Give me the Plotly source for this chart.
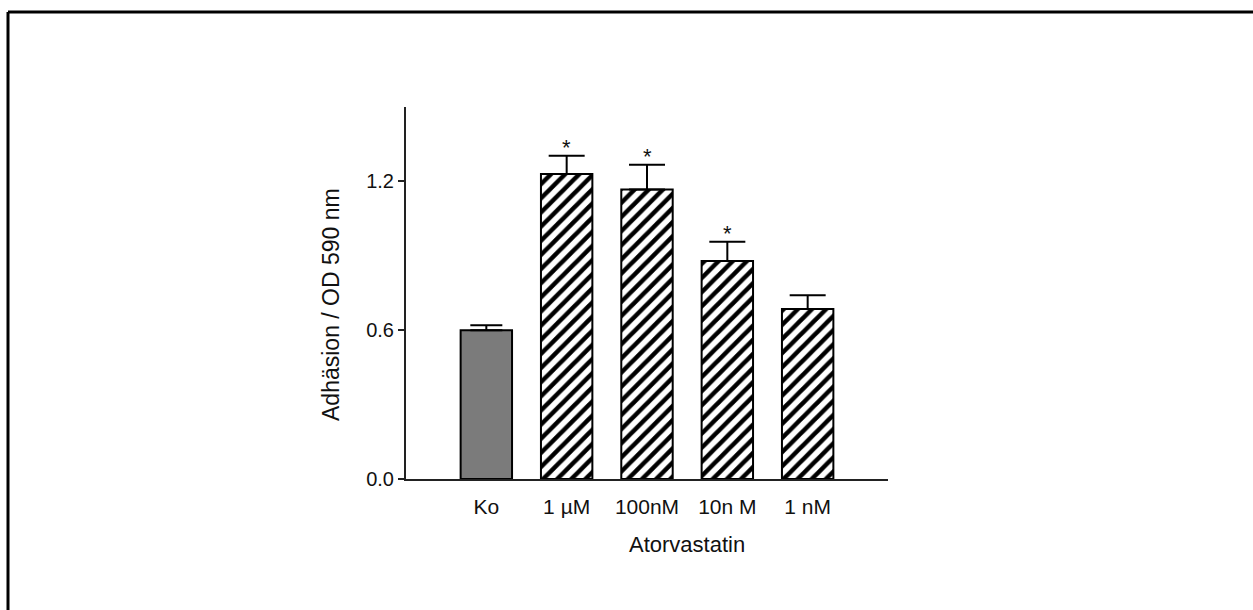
import plotly.graph_objects as go

categories = ["Ko", "1µM", "100nM", "10nM", "1nM"]
tick_labels = ["Ko", "1 µM", "100nM", "10n M", "1 nM"]
values = [0.60, 1.23, 1.167, 0.879, 0.685]
errors_up = [0.02, 0.073, 0.10, 0.078, 0.056]
significant = [False, True, True, True, False]
hatched = [False, True, True, True, True]

FONT = "Arial, 'Liberation Sans', sans-serif"

xs = list(range(len(categories)))
ctrl_idx = [i for i, h in enumerate(hatched) if not h]
hatch_idx = [i for i, h in enumerate(hatched) if h]

fig = go.Figure()
fig.add_trace(go.Bar(
    x=[xs[i] for i in ctrl_idx],
    y=[values[i] for i in ctrl_idx],
    width=0.64,
    marker=dict(color="#7b7b7b", line=dict(color="black", width=2)),
    error_y=dict(type="data", symmetric=False,
                 array=[errors_up[i] for i in ctrl_idx],
                 arrayminus=[0] * len(ctrl_idx), color="black",
                 thickness=2, width=16),
    showlegend=False,
))
fig.add_trace(go.Bar(
    x=[xs[i] for i in hatch_idx],
    y=[values[i] for i in hatch_idx],
    width=0.64,
    marker=dict(
        color="white",
        line=dict(color="black", width=2),
        pattern=dict(shape="/", fgcolor="black", bgcolor="white",
                     fgopacity=1, size=10, solidity=0.45),
    ),
    error_y=dict(type="data", symmetric=False,
                 array=[errors_up[i] for i in hatch_idx],
                 arrayminus=[0] * len(hatch_idx), color="black",
                 thickness=2, width=18),
    showlegend=False,
))

annotations = []
for i, (v, e, s) in enumerate(zip(values, errors_up, significant)):
    if s:
        annotations.append(dict(x=i, y=v + e, xref="x", yref="y", text="*",
                                showarrow=False, yanchor="bottom", yshift=-6,
                                font=dict(family=FONT, size=22, color="#111")))

annotations.append(dict(x=2.5, y=-0.177, xref="x", yref="paper",
                        text="Atorvastatin", showarrow=False,
                        xanchor="center", yanchor="middle",
                        font=dict(family=FONT, size=22, color="#111")))
annotations.append(dict(x=-0.156, y=0.47, xref="paper", yref="paper",
                        text="Adhäsion / OD 590 nm", showarrow=False,
                        textangle=-90, xanchor="center", yanchor="middle",
                        font=dict(family=FONT, size=23, color="#111")))

fig.update_layout(
    width=1253, height=610,
    margin=dict(l=406, r=365, t=107, b=131, pad=0),
    paper_bgcolor="white", plot_bgcolor="white",
    font=dict(family=FONT, color="#111"),
    barmode="overlay",
    annotations=annotations,
    shapes=[
        dict(type="line", xref="paper", yref="paper",
             x0=(8 - 406) / 482, x1=(1260 - 406) / 482,
             y0=(479 - 12) / 372, y1=(479 - 12) / 372,
             line=dict(color="black", width=3)),
        dict(type="line", xref="paper", yref="paper",
             x0=(8 - 406) / 482, x1=(8 - 406) / 482,
             y0=(479 - 12) / 372, y1=(479 - 620) / 372,
             line=dict(color="black", width=3)),
    ],
)

fig.update_xaxes(
    range=[-1, 5], tickvals=xs, ticktext=tick_labels,
    showline=True, linecolor="#222", linewidth=2, ticks="", showgrid=False,
    zeroline=False, ticklabelstandoff=8,
    tickfont=dict(family=FONT, size=21, color="#111"),
)
fig.update_yaxes(
    range=[0, 1.5], tickvals=[0, 0.6, 1.2], tickformat=".1f",
    showline=True, linecolor="#222", linewidth=2, ticks="outside",
    ticklen=6, tickwidth=2, tickcolor="#222", showgrid=False, zeroline=False,
    tickfont=dict(family=FONT, size=20, color="#111"),
)

fig.write_html("out.html")
